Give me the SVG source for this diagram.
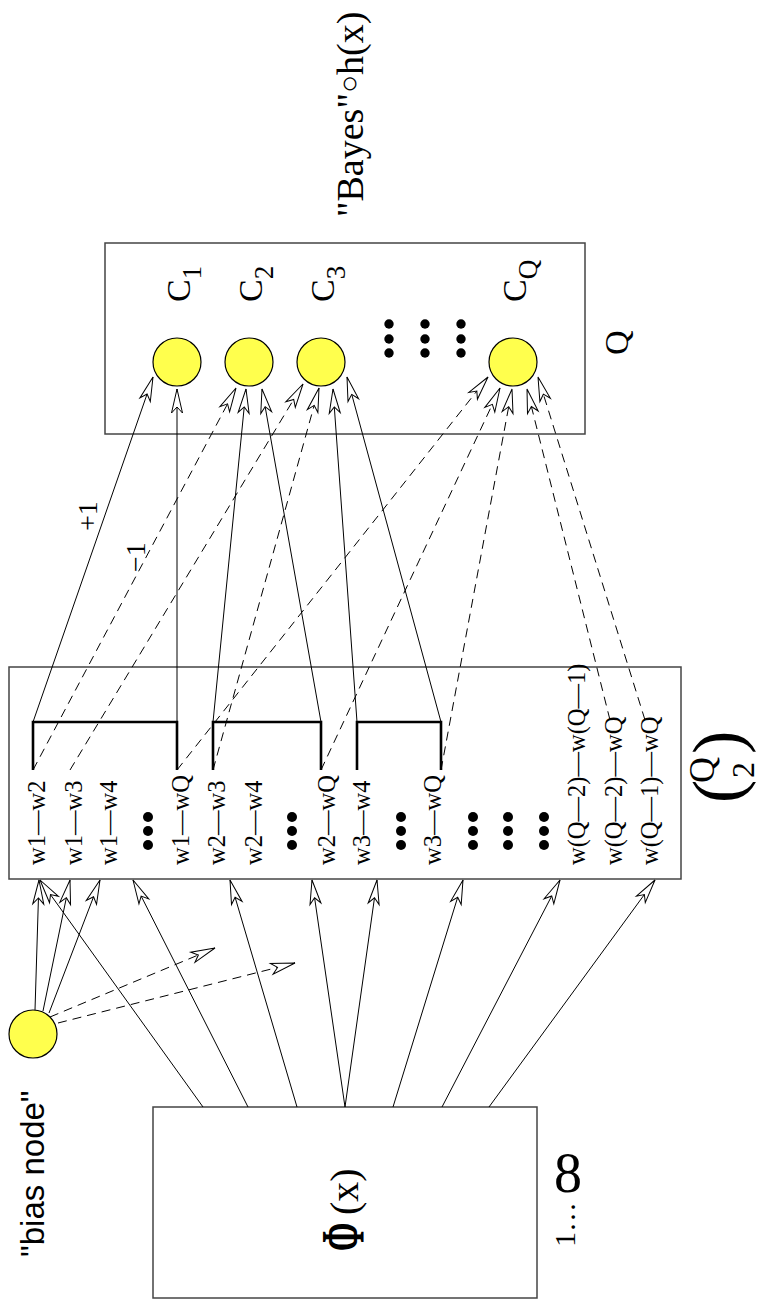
<svg xmlns="http://www.w3.org/2000/svg" width="759" height="1310" viewBox="0 0 759 1310">
  <style>
    .box { fill: none; stroke: #444; stroke-width: 1.5; }
    .unit { fill: #ffff4d; stroke: #000; stroke-width: 1.2; }
    .dot { fill: #000; }
    .w { stroke: #000; stroke-width: 1; fill: none; marker-end: url(#ah); }
    .d { stroke: #000; stroke-width: 1; fill: none; stroke-dasharray: 9 6; marker-end: url(#ah); }
    .br { stroke: #000; stroke-width: 2.6; fill: none; }
    .serif { font-family: "Liberation Serif", "Times New Roman", serif; fill: #000; }
    .sans { font-family: "Liberation Sans", Arial, sans-serif; fill: #000; }
    .pair { font-size: 24.5px; }
  </style>
  <defs>
    <marker id="ah" markerUnits="userSpaceOnUse" markerWidth="30" markerHeight="16" viewBox="-28 -8 30 16" refX="0" refY="0" orient="auto">
      <path d="M0,0 L-24,-5.5 L-18,0 L-24,5.5 Z" fill="#fff" stroke="#000" stroke-width="1"/>
    </marker>
  </defs>

  <!-- output layer: one unit per class -->
  <g id="output-layer">
    <rect class="box" x="105" y="243" width="480" height="191"/>
    <text class="serif" font-size="34" transform="translate(628,355) rotate(-90)">Q</text>
    <g class="dot">
      <circle cx="389" cy="324" r="4.7"/><circle cx="389" cy="339" r="4.7"/><circle cx="389" cy="353" r="4.7"/>
      <circle cx="425" cy="324" r="4.7"/><circle cx="425" cy="339" r="4.7"/><circle cx="425" cy="353" r="4.7"/>
      <circle cx="461" cy="324" r="4.7"/><circle cx="461" cy="339" r="4.7"/><circle cx="461" cy="353" r="4.7"/>
    </g>
  </g>
  <g id="c1">
    <circle class="unit" cx="177" cy="362" r="24"/>
    <text class="serif" font-size="34" transform="translate(190,302) rotate(-90)">C<tspan font-size="27" dy="11">1</tspan></text>
  </g>
  <g id="c2">
    <circle class="unit" cx="249" cy="362" r="24"/>
    <text class="serif" font-size="34" transform="translate(262,302) rotate(-90)">C<tspan font-size="27" dy="11">2</tspan></text>
  </g>
  <g id="c3">
    <circle class="unit" cx="321" cy="362" r="24"/>
    <text class="serif" font-size="34" transform="translate(334,302) rotate(-90)">C<tspan font-size="27" dy="11">3</tspan></text>
  </g>
  <g id="cq">
    <circle class="unit" cx="513" cy="362" r="24"/>
    <text class="serif" font-size="34" transform="translate(526,302) rotate(-90)">C<tspan font-size="27" dy="11">Q</tspan></text>
  </g>

  <g id="bayes-label">
    <text class="serif" font-size="38" transform="translate(363,217) rotate(-90)">"Bayes"<tspan font-size="30" dy="-4">○</tspan><tspan dy="4">h(x)</tspan></text>
  </g>

  <!-- pairwise layer: one unit per pair of classes -->
  <g id="pair-layer">
    <rect class="box" x="9" y="667" width="672" height="212"/>
    <g class="serif pair">
      <text transform="translate(45,865) rotate(-90)">w1—w2</text>
      <text transform="translate(82,865) rotate(-90)">w1—w3</text>
      <text transform="translate(117,865) rotate(-90)">w1—w4</text>
      <text transform="translate(189,865) rotate(-90)">w1—wQ</text>
      <text transform="translate(225,865) rotate(-90)">w2—w3</text>
      <text transform="translate(262,865) rotate(-90)">w2—w4</text>
      <text transform="translate(335,865) rotate(-90)">w2—wQ</text>
      <text transform="translate(370,865) rotate(-90)">w3—w4</text>
      <text transform="translate(441,865) rotate(-90)">w3—wQ</text>
      <text transform="translate(585,865) rotate(-90)">w(Q—2)—w(Q—1)</text>
      <text transform="translate(622,865) rotate(-90)">w(Q—2)—wQ</text>
      <text transform="translate(658,865) rotate(-90)">w(Q—1)—wQ</text>
    </g>
    <g class="dot">
      <circle cx="148" cy="817" r="5"/><circle cx="148" cy="831" r="5"/><circle cx="148" cy="845" r="5"/>
      <circle cx="292" cy="817" r="5"/><circle cx="292" cy="831" r="5"/><circle cx="292" cy="845" r="5"/>
      <circle cx="401" cy="817" r="5"/><circle cx="401" cy="831" r="5"/><circle cx="401" cy="845" r="5"/>
      <circle cx="473" cy="817" r="5"/><circle cx="473" cy="831" r="5"/><circle cx="473" cy="845" r="5"/>
      <circle cx="508" cy="817" r="5"/><circle cx="508" cy="831" r="5"/><circle cx="508" cy="845" r="5"/>
      <circle cx="544" cy="817" r="5"/><circle cx="544" cy="831" r="5"/><circle cx="544" cy="845" r="5"/>
    </g>
    <!-- brackets grouping the pairs of each class -->
    <path class="br" d="M33,770 V722 H177 V770"/>
    <path class="br" d="M213,770 V722 H321 V770"/>
    <path class="br" d="M357,770 V722 H441 V770"/>
    <!-- binomial (Q over 2) -->
    <g class="serif">
      <text font-size="70" transform="translate(741,803) rotate(-90)">(</text>
      <text font-size="70" transform="translate(741,754) rotate(-90)">)</text>
      <text font-size="36" transform="translate(714,783) rotate(-90)">Q</text>
      <text font-size="32" transform="translate(754,778) rotate(-90)">2</text>
    </g>
  </g>

  <g id="bias-node">
    <circle class="unit" cx="33" cy="1034" r="24"/>
    <text class="sans" font-size="33" transform="translate(44,1257) rotate(-90)">"bias node"</text>
  </g>

  <g id="feature-box">
    <rect class="box" x="153" y="1107" width="384" height="191"/>
    <text class="serif" font-size="62" font-weight="bold" transform="translate(363,1251) rotate(-90) scale(0.55,1)">Φ</text>
    <text class="serif" font-size="40" transform="translate(358,1215) rotate(-90)">(x)</text>
    <text class="serif" font-size="30" transform="translate(575,1247) rotate(-90)">1…</text>
    <text class="serif" font-size="56" text-anchor="middle" x="568" y="1192">8</text>
  </g>

  <g id="connectors">
    <!-- feature box to pairwise units -->
    <line class="w" x1="203" y1="1107" x2="40" y2="880"/>
    <line class="w" x1="248" y1="1107" x2="133" y2="880"/>
    <line class="w" x1="297" y1="1107" x2="230" y2="880"/>
    <line class="w" x1="345" y1="1107" x2="312" y2="880"/>
    <line class="w" x1="345" y1="1107" x2="377" y2="880"/>
    <line class="w" x1="393" y1="1107" x2="463" y2="880"/>
    <line class="w" x1="442" y1="1107" x2="560" y2="880"/>
    <line class="w" x1="489" y1="1107" x2="655" y2="880"/>
    <!-- bias node -->
    <line class="w" x1="35" y1="1010" x2="39" y2="880"/>
    <line class="w" x1="43" y1="1011" x2="70" y2="880"/>
    <line class="w" x1="49" y1="1013" x2="100" y2="880"/>
    <line class="d" x1="50" y1="1017" x2="215" y2="948"/>
    <line class="d" x1="58" y1="1023" x2="295" y2="963"/>
    <!-- pairwise units to class units: +1 -->
    <line class="w" x1="33" y1="722" x2="153" y2="377"/>
    <line class="w" x1="177" y1="722" x2="177" y2="389"/>
    <line class="w" x1="213" y1="722" x2="246" y2="389"/>
    <line class="w" x1="321" y1="722" x2="262" y2="389"/>
    <line class="w" x1="357" y1="722" x2="333" y2="389"/>
    <line class="w" x1="441" y1="722" x2="347" y2="377"/>
    <!-- pairwise units to class units: -1 -->
    <line class="d" x1="33" y1="770" x2="236" y2="388"/>
    <line class="d" x1="70" y1="770" x2="303" y2="384"/>
    <line class="d" x1="177" y1="770" x2="488" y2="377"/>
    <line class="d" x1="213" y1="770" x2="319" y2="388"/>
    <line class="d" x1="321" y1="770" x2="500" y2="388"/>
    <line class="d" x1="441" y1="770" x2="512" y2="389"/>
    <line class="d" x1="610" y1="720" x2="527" y2="389"/>
    <line class="d" x1="645" y1="720" x2="538" y2="377"/>
    <text class="serif" font-size="28" transform="translate(97,531) rotate(-90)">+1</text>
    <text class="serif" font-size="28" transform="translate(145,572) rotate(-90)">−1</text>
  </g>
</svg>
